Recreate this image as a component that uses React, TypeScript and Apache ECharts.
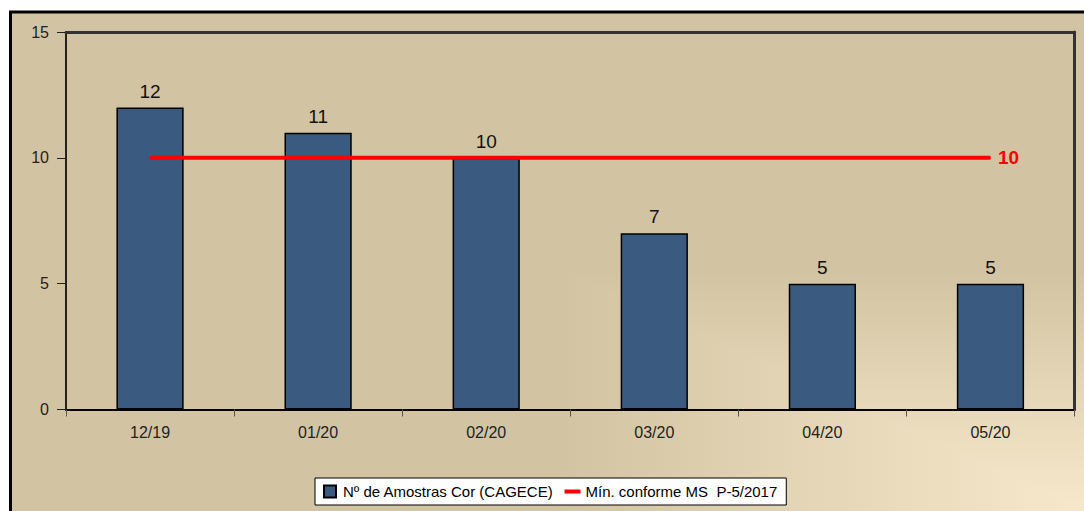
import React, { useEffect, useRef } from "react";
import * as echarts from "echarts";

const categories = ["12/19", "01/20", "02/20", "03/20", "04/20", "05/20"];
const amostras = [12, 11, 10, 7, 5, 5];
const minimoMS = [10, 10, 10, 10, 10, 10];
const barName = "Nº de Amostras Cor (CAGECE)";
const lineName = "Mín. conforme MS  P-5/2017";

const FONT = "'Liberation Sans', Arial, sans-serif";
const TAN = "#D2C4A2";
const LIGHT = "#F7E8CB";

export default function App() {
  const ref = useRef<HTMLDivElement>(null);
  useEffect(() => {
    if (!ref.current) return;
    const chart = echarts.init(ref.current, null, { renderer: "svg" });
    const last = minimoMS.length - 1;
    chart.setOption({
      animation: false,
      backgroundColor: "#ffffff",
      textStyle: { fontFamily: FONT },
      graphic: [
        {
          type: "rect",
          z: -100,
          shape: { x: 10.5, y: 12, width: 1300, height: 700 },
          style: { fill: TAN, stroke: "#000", lineWidth: 3 },
          silent: true,
        },
        {
          type: "rect",
          z: -99,
          shape: { x: 557, y: 270, width: 527, height: 241 },
          style: {
            fill: new echarts.graphic.LinearGradient(0, 0, 1, 0, [
              { offset: 0, color: TAN },
              { offset: 1, color: LIGHT },
            ]),
          },
          silent: true,
        },
        {
          type: "polygon",
          z: -98,
          shape: { points: [[557, 270], [1084, 270], [1084, 511]] },
          style: {
            fill: new echarts.graphic.LinearGradient(0, 0, 0, 1, [
              { offset: 0, color: TAN },
              { offset: 1, color: LIGHT },
            ]),
          },
          silent: true,
        },
      ],
      grid: { left: 66, right: 9.5, top: 32, bottom: 101.5, containLabel: false },
      legend: {
        left: 315,
        top: 478,
        padding: [6, 9, 6, 8],
        backgroundColor: "#ffffff",
        borderColor: "#000",
        borderWidth: 1,
        borderRadius: 0,
        itemWidth: 16,
        itemHeight: 12,
        itemGap: 11,
        textStyle: { fontSize: 15, color: "#000", fontFamily: FONT },
        data: [
          { name: barName, icon: "path://M0,0H12V12H0Z" },
          { name: lineName, icon: "path://M0,0H16V4H0Z", itemStyle: { color: "#ff0000", borderWidth: 0 } },
        ],
      },
      xAxis: [
        {
          type: "category",
          data: categories,
          boundaryGap: true,
          axisLine: { show: true, onZero: false, lineStyle: { color: "#000", width: 2 } },
          axisTick: { show: true, length: 7, lineStyle: { color: "#555", width: 1 } },
          axisLabel: { margin: 15, fontSize: 16, color: "#222", fontFamily: FONT },
          splitLine: { show: false },
        },
        {
          type: "category",
          data: categories,
          position: "top",
          axisLine: { show: true, onZero: false, lineStyle: { color: "#333", width: 3 } },
          axisTick: { show: false },
          axisLabel: { show: false },
          splitLine: { show: false },
        },
      ],
      yAxis: [
        {
          type: "value",
          min: 0,
          max: 15,
          interval: 5,
          axisLine: { show: true, onZero: false, lineStyle: { color: "#222", width: 2 } },
          axisTick: { show: true, length: 9, lineStyle: { color: "#222", width: 1 } },
          axisLabel: { margin: 17, fontSize: 16, color: "#222", fontFamily: FONT },
          splitLine: { show: false },
        },
        {
          type: "value",
          min: 0,
          max: 15,
          interval: 5,
          position: "right",
          axisLine: { show: true, onZero: false, lineStyle: { color: "#333", width: 3 } },
          axisTick: { show: false },
          axisLabel: { show: false },
          splitLine: { show: false },
        },
      ],
      series: [
        {
          name: barName,
          type: "bar",
          data: amostras,
          barWidth: "40%",
          itemStyle: { color: "#3A5A80", borderColor: "#000", borderWidth: 1.5 },
          label: {
            show: true,
            position: "top",
            distance: 7,
            fontSize: 19,
            color: "#111",
            fontFamily: FONT,
          },
        },
        {
          name: lineName,
          type: "line",
          data: minimoMS.map((v, i) =>
            i === last
              ? {
                  value: v,
                  label: {
                    show: true,
                    position: "right",
                    distance: 7,
                    fontSize: 19,
                    fontWeight: "bold",
                    color: "#ff0000",
                    fontFamily: FONT,
                  },
                }
              : v
          ),
          symbol: "circle",
          symbolSize: 1,
          showSymbol: true,
          itemStyle: { color: "#ff0000" },
          lineStyle: { color: "#ff0000", width: 4 },
          label: { show: false },
          z: 5,
        },
      ],
    });
    return () => chart.dispose();
  }, []);
  return (
    <div
      ref={ref}
      style={{ position: "absolute", left: 0, top: 0, width: 1084, height: 511 }}
    />
  );
}
